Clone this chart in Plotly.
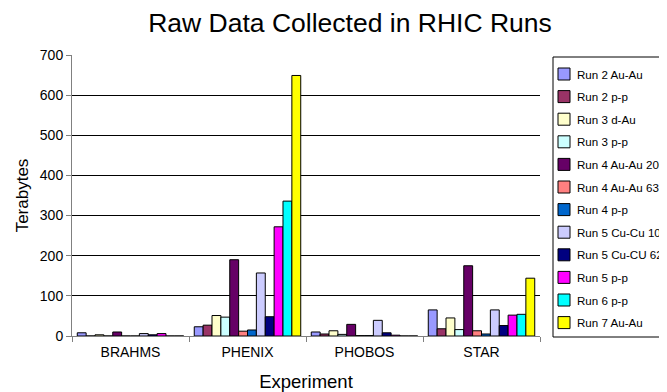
import plotly.graph_objects as go

experiments = ["BRAHMS", "PHENIX", "PHOBOS", "STAR"]
runs = ["Run 2 Au-Au", "Run 2 p-p", "Run 3 d-Au", "Run 3 p-p", "Run 4 Au-Au 200",
        "Run 4 Au-Au 63", "Run 4 p-p", "Run 5 Cu-Cu 100", "Run 5 Cu-CU 62",
        "Run 5 p-p", "Run 6 p-p", "Run 7 Au-Au"]
colors = ["#9999FF", "#993366", "#FFFFCC", "#CCFFFF", "#660066", "#FF8080",
          "#0066CC", "#CCCCFF", "#000080", "#FF00FF", "#00FFFF", "#FFFF00"]

run2_auau = [8, 23, 10, 65]
run2_pp = [0, 27, 5, 18]
run3_dau = [3, 51, 13, 45]
run3_pp = [0, 47, 4, 16]
run4_auau200 = [10, 190, 29, 175]
run4_auau63 = [0, 12, 1, 13]
run4_pp = [0, 15, 1, 5]
run5_cucu200 = [6, 157, 39, 65]
run5_cucu62 = [3, 48, 8, 26]
run5_pp = [6, 272, 2, 52]
run6_pp = [0, 336, 0, 54]
run7_auau = [0, 649, 0, 144]

series = [run2_auau, run2_pp, run3_dau, run3_pp, run4_auau200, run4_auau63,
          run4_pp, run5_cucu200, run5_cucu62, run5_pp, run6_pp, run7_auau]

FONT = "Liberation Sans, Arial, Helvetica, sans-serif"
OFF = 8  # default page body margin
W, H = 667 - OFF, 392 - OFF
# plot area in window pixels: x 72..540, y 55..336
ML, MT = 72 - OFF, 55 - OFF
MR, MB = W - (540 - OFF), H - (336 - OFF)
PW, PH = W - ML - MR, H - MT - MB


def px_x(px):
    return (px - OFF - ML) / PW


def px_y(py):
    return (H - MB - (py - OFF)) / PH


fig = go.Figure()
for name, vals, col in zip(runs, series, colors):
    fig.add_trace(go.Bar(
        x=experiments, y=vals, name=name,
        marker=dict(color=col, line=dict(color="black", width=1)),
    ))

# Legend drawn manually (box, swatches, labels)
shapes = [dict(type="rect", xref="paper", yref="paper",
               x0=px_x(553), x1=px_x(700), y0=px_y(337), y1=px_y(57),
               line=dict(color="black", width=1), fillcolor="white", layer="below")]
annotations = []
for i, (name, col) in enumerate(zip(runs, colors)):
    cy = 74 + i * 22.6
    shapes.append(dict(type="rect", xref="paper", yref="paper",
                       x0=px_x(558), x1=px_x(570), y0=px_y(cy + 6), y1=px_y(cy - 6),
                       line=dict(color="black", width=1), fillcolor=col))
    annotations.append(dict(text=name, xref="paper", yref="paper", x=px_x(575),
                            y=px_y(cy), xanchor="left", yanchor="middle",
                            showarrow=False, font=dict(size=11.6, family=FONT, color="black")))

fig.update_layout(
    width=W, height=H,
    margin=dict(l=ML, r=MR, t=MT, b=MB, autoexpand=False),
    paper_bgcolor="white", plot_bgcolor="white",
    barmode="group", bargap=0.09, bargroupgap=0,
    font=dict(family=FONT, color="black", size=14),
    title=dict(text="Raw Data Collected in RHIC Runs", x=(350 - OFF) / W, xanchor="center",
               y=1 - (23 - OFF) / H, yanchor="middle", font=dict(size=26.5, family=FONT)),
    showlegend=False,
    shapes=shapes,
    annotations=annotations,
)
fig.update_xaxes(
    automargin=False,
    showline=True, linecolor="#808080", linewidth=1, ticks="outside",
    tickson="boundaries", ticklen=5, tickcolor="#808080", ticklabelstandoff=3,
    tickfont=dict(size=14), title=dict(text="Experiment", font=dict(size=18.5), standoff=17),
)
fig.update_yaxes(
    automargin=False,
    range=[0, 700], dtick=100, showline=True, linecolor="#808080", linewidth=1,
    ticks="outside", ticklen=5, tickcolor="#808080",
    showgrid=True, gridcolor="black", gridwidth=1, zeroline=False,
    tickfont=dict(size=14), title=dict(text="Terabytes", font=dict(size=17), standoff=6),
)

fig.write_html("out.html")
